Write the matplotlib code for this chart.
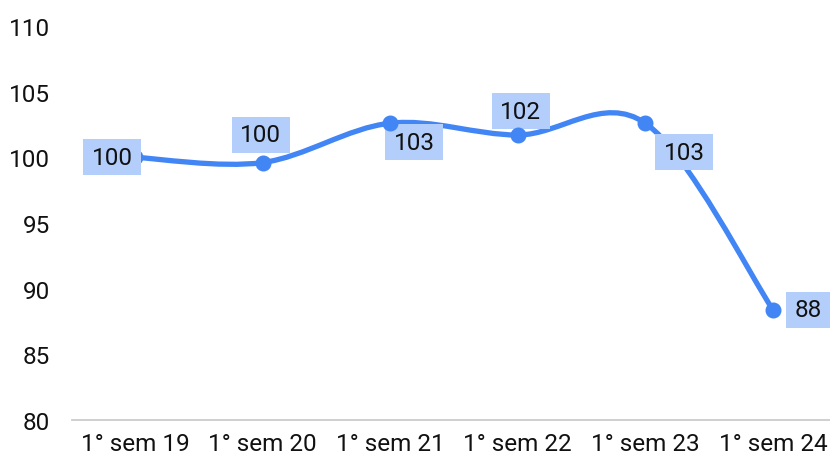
import matplotlib
matplotlib.use('Agg')
import matplotlib.pyplot as plt
from matplotlib.path import Path
from matplotlib.patches import PathPatch
import numpy as np

plt.rcParams['font.family'] = ['Roboto', 'DejaVu Sans']

categorias = ['1° sem 19', '1° sem 20', '1° sem 21', '1° sem 22', '1° sem 23', '1° sem 24']
valores    = [100.0, 99.6, 102.6, 101.7, 102.6, 88.4]
rotulos    = ['100', '100', '103', '102', '103', '88']
# deslocamento dos rotulos (pixels)
desloc     = [(-23, 0), (-2, 28), (24, -19), (3, 24), (39, -29), (35, 0)]

azul       = '#4285f4'
azul_claro = '#b3cefb'
cor_texto  = '#111111'


def caixa(x0, y0, width, height, mutation_size):
    # caixa retangular com folga horizontal maior que a vertical
    px, py = 8.5, 6.5
    x0, y0 = x0 - px, y0 - py
    x1, y1 = x0 + width + 2*px, y0 + height + 2*py
    return Path([(x0, y0), (x1, y0), (x1, y1), (x0, y1), (x0, y0)],
                [Path.MOVETO, Path.LINETO, Path.LINETO, Path.LINETO, Path.CLOSEPOLY])


fig = plt.figure(figsize=(8.3, 4.6), dpi=100)
ax = fig.add_axes([72/830, 39/460, 758/830, 394/460])

x = np.arange(len(valores))
y = np.array(valores)

# linha suavizada (bezier tipo catmull-rom)
pts = np.column_stack([x, y])
verts = [tuple(pts[0])]
codes = [Path.MOVETO]
n = len(pts)
for i in range(n - 1):
    p0 = pts[max(i - 1, 0)]
    p1 = pts[i]
    p2 = pts[i + 1]
    p3 = pts[min(i + 2, n - 1)]
    c1 = p1 + (p2 - p0) / 6
    c2 = p2 - (p3 - p1) / 6
    verts += [tuple(c1), tuple(c2), tuple(p2)]
    codes += [Path.CURVE4] * 3
ax.add_patch(PathPatch(Path(verts, codes), fill=False, edgecolor=azul,
                       linewidth=3.8, capstyle='round', joinstyle='round', zorder=2))
ax.plot(x, y, 'o', color=azul, markersize=10.5, zorder=4)

for i, (xi, yi, txt, d) in enumerate(zip(x, y, rotulos, desloc)):
    ax.annotate(txt, (xi, yi), xytext=d, textcoords='offset pixels',
                ha='center', va='center', fontsize=17.5, color=cor_texto,
                bbox=dict(boxstyle=caixa, facecolor=azul_claro, edgecolor='none'),
                zorder=5 if i == 0 else 3)

ax.set_xlim(-0.494, 5.447)
ax.set_ylim(80, 110)
ax.set_yticks([80, 85, 90, 95, 100, 105, 110])
ax.set_xticks(x)
ax.set_xticklabels(categorias)
for s in ['top', 'right', 'left']:
    ax.spines[s].set_visible(False)
ax.spines['bottom'].set_color('#cccccc')
ax.spines['bottom'].set_linewidth(1.3)
ax.tick_params(axis='both', length=0, labelsize=17.5, labelcolor=cor_texto)
ax.tick_params(axis='x', pad=9)
ax.tick_params(axis='y', pad=16)

fig.savefig('out.png', dpi=100)
plt.close()
